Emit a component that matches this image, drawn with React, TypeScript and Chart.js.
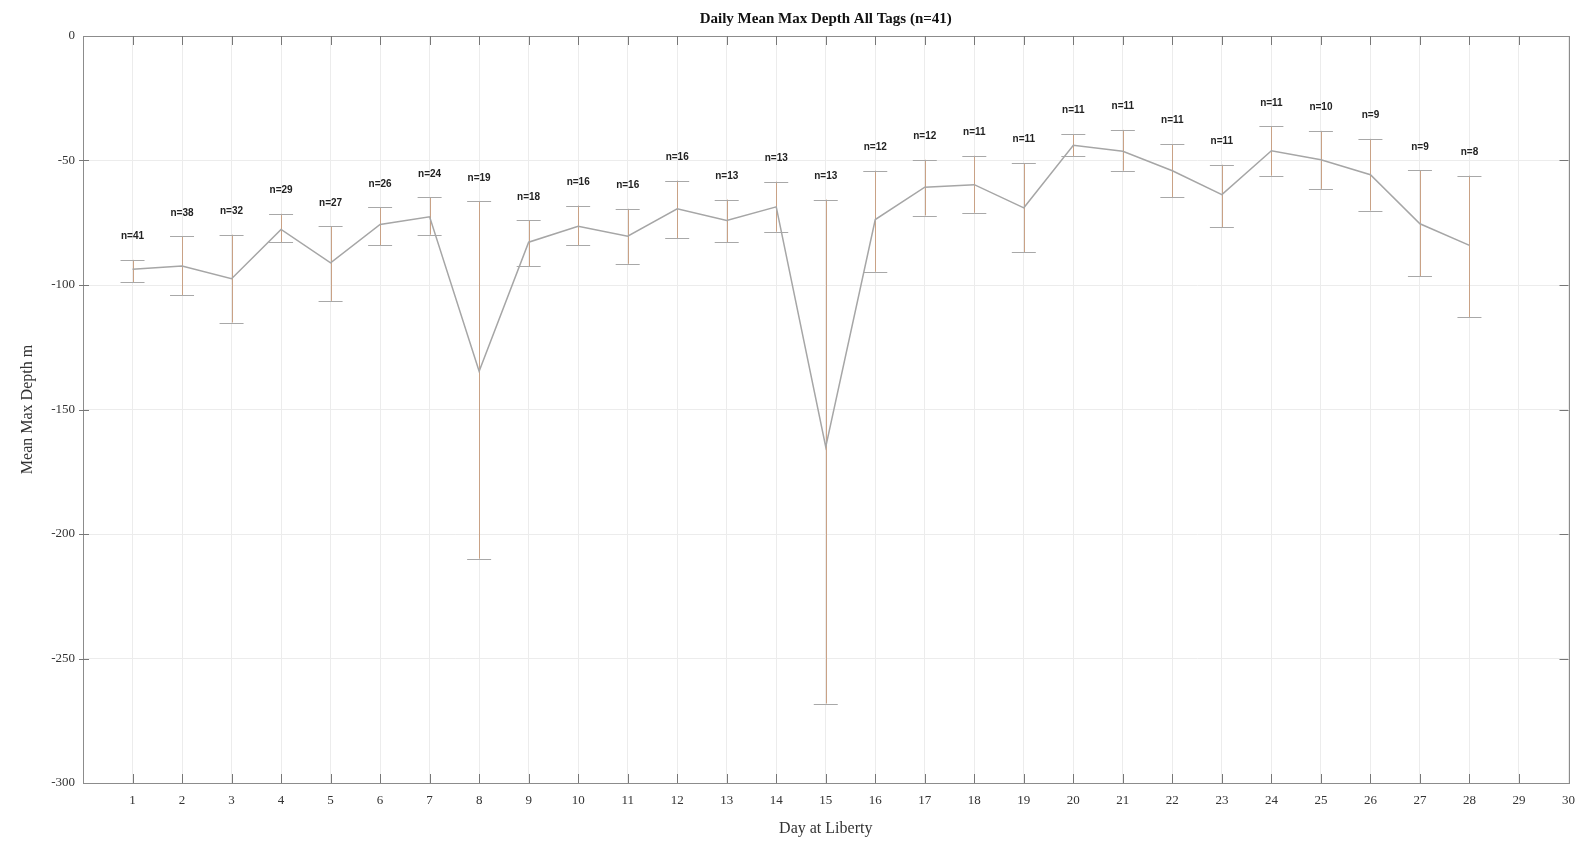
import React, { useEffect, useRef } from "react";
import { Chart, registerables } from "chart.js";

Chart.register(...registerables);

const days = [1, 2, 3, 4, 5, 6, 7, 8, 9, 10, 11, 12, 13, 14, 15, 16, 17, 18, 19, 20, 21, 22, 23, 24, 25, 26, 27, 28];
const means = [-93.7, -92.4, -97.5, -77.7, -91.1, -75.7, -72.6, -134.6, -82.8, -76.4, -80.4, -69.4, -74.1, -68.6, -165.0, -73.7, -60.7, -59.7, -69.0, -43.9, -46.3, -54.1, -63.7, -46.1, -49.7, -55.7, -75.4, -84.1];
const upper = [-89.9, -80.4, -79.8, -71.4, -76.4, -68.8, -64.8, -66.4, -74.0, -68.1, -69.4, -58.1, -65.7, -58.5, -65.7, -54.1, -49.7, -48.1, -51.0, -39.4, -37.7, -43.4, -51.7, -36.3, -38.1, -41.3, -53.9, -56.1];
const lower = [-98.8, -104.1, -115.1, -82.8, -106.4, -84.1, -79.8, -209.9, -92.4, -84.0, -91.5, -81.2, -82.8, -78.6, -268.1, -94.7, -72.1, -71.0, -86.8, -48.3, -54.1, -64.8, -76.8, -56.1, -61.4, -70.1, -96.4, -113.0];
const counts = [41, 38, 32, 29, 27, 26, 24, 19, 18, 16, 16, 16, 13, 13, 13, 12, 12, 11, 11, 11, 11, 11, 11, 11, 10, 9, 9, 8];

const TITLE = "Daily Mean Max Depth All Tags (n=41)";
const X_TITLE = "Day at Liberty";
const Y_TITLE = "Mean Max Depth m";
const X_MIN = 0;
const X_MAX = 30;
const Y_MIN = -300;
const Y_MAX = 0;
const LABEL_OFFSET = 9.4;

const decorPlugin = {
  id: "decor",
  beforeDatasetsDraw(chart: any) {
    const ctx = chart.ctx;
    const xs = chart.scales.x;
    const ys = chart.scales.y;
    ctx.save();
    days.forEach((d, i) => {
      const px = xs.getPixelForValue(d);
      const pt = ys.getPixelForValue(upper[i]);
      const pb = ys.getPixelForValue(lower[i]);
      ctx.strokeStyle = "#c9a286";
      ctx.lineWidth = 1;
      ctx.beginPath();
      ctx.moveTo(Math.round(px) + 0.5, pt);
      ctx.lineTo(Math.round(px) + 0.5, pb);
      ctx.stroke();
      ctx.strokeStyle = "#a8a8a8";
      ctx.beginPath();
      ctx.moveTo(px - 12, Math.round(pt) + 0.5);
      ctx.lineTo(px + 12, Math.round(pt) + 0.5);
      ctx.moveTo(px - 12, Math.round(pb) + 0.5);
      ctx.lineTo(px + 12, Math.round(pb) + 0.5);
      ctx.stroke();
    });
    ctx.restore();
  },
  afterDraw(chart: any) {
    const ctx = chart.ctx;
    const xs = chart.scales.x;
    const ys = chart.scales.y;
    const a = chart.chartArea;
    ctx.save();
    ctx.strokeStyle = "#8c8c8c";
    ctx.lineWidth = 1;
    ctx.strokeRect(Math.round(a.left) + 0.5, Math.round(a.top) + 0.5, Math.round(a.right - a.left), Math.round(a.bottom - a.top));
    ctx.strokeStyle = "#777";
    ctx.beginPath();
    for (let v = X_MIN + 1; v < X_MAX; v++) {
      const px = Math.round(xs.getPixelForValue(v)) + 0.5;
      ctx.moveTo(px, a.bottom);
      ctx.lineTo(px, a.bottom - 9);
      ctx.moveTo(px, a.top);
      ctx.lineTo(px, a.top + 9);
    }
    for (let v = Y_MIN + 50; v < Y_MAX; v += 50) {
      const py = Math.round(ys.getPixelForValue(v)) + 0.5;
      ctx.moveTo(a.left - 4, py);
      ctx.lineTo(a.left + 6, py);
      ctx.moveTo(a.right, py);
      ctx.lineTo(a.right - 9, py);
    }
    ctx.stroke();
    ctx.fillStyle = "#222";
    ctx.font = "bold 10px 'Liberation Sans', Arial, sans-serif";
    ctx.textAlign = "center";
    ctx.textBaseline = "middle";
    days.forEach((d, i) => {
      ctx.fillText("n=" + counts[i], xs.getPixelForValue(d), ys.getPixelForValue(upper[i] + LABEL_OFFSET));
    });
    ctx.fillStyle = "#111";
    ctx.font = "bold 15px 'Liberation Serif', 'Times New Roman', serif";
    ctx.fillText(TITLE, (a.left + a.right) / 2, 19);
    ctx.restore();
  },
};

export default function App() {
  const ref = useRef<HTMLCanvasElement | null>(null);
  useEffect(() => {
    if (!ref.current) return;
    const chart = new Chart(ref.current, {
      type: "line",
      data: {
        datasets: [
          {
            data: days.map((d, i) => ({ x: d, y: means[i] })),
            borderColor: "#a6a6a6",
            borderWidth: 1.5,
            pointRadius: 0,
            tension: 0,
            fill: false,
          },
        ],
      },
      options: {
        responsive: false,
        animation: false,
        layout: { padding: { top: 36, right: 15, left: 0, bottom: 0 } },
        plugins: { legend: { display: false }, title: { display: false }, tooltip: { enabled: false } },
        scales: {
          x: {
            type: "linear",
            min: X_MIN,
            max: X_MAX,
            ticks: {
              stepSize: 1,
              autoSkip: false,
              maxRotation: 0,
              padding: 10,
              color: "#333",
              font: { family: "'Liberation Serif', serif", size: 13 },
              callback: (v: any) => (v === 0 ? "" : String(v)),
            },
            grid: { color: "#ececec", drawTicks: false },
            border: { color: "#8c8c8c" },
            title: {
              display: true,
              text: X_TITLE,
              color: "#333",
              font: { family: "'Liberation Serif', serif", size: 16 },
              padding: { top: 0, bottom: 5 },
            },
            afterFit: (s: any) => {
              s.height = 60;
            },
          },
          y: {
            type: "linear",
            min: Y_MIN,
            max: Y_MAX,
            ticks: {
              stepSize: 50,
              padding: 8,
              color: "#333",
              font: { family: "'Liberation Serif', serif", size: 13 },
            },
            grid: { color: "#ececec", drawTicks: false },
            border: { color: "#8c8c8c" },
            title: {
              display: true,
              text: Y_TITLE,
              color: "#333",
              font: { family: "'Liberation Serif', serif", size: 16 },
              padding: { top: 18, bottom: 0 },
            },
            afterFit: (s: any) => {
              s.width = 83;
            },
          },
        },
      },
      plugins: [decorPlugin],
    } as any);
    return () => chart.destroy();
  }, []);
  return (
    <div style={{ position: "absolute", left: 0, top: 0, width: 1585, height: 843, background: "#fff" }}>
      <canvas ref={ref} width={1585} height={843} style={{ display: "block" }} />
    </div>
  );
}
